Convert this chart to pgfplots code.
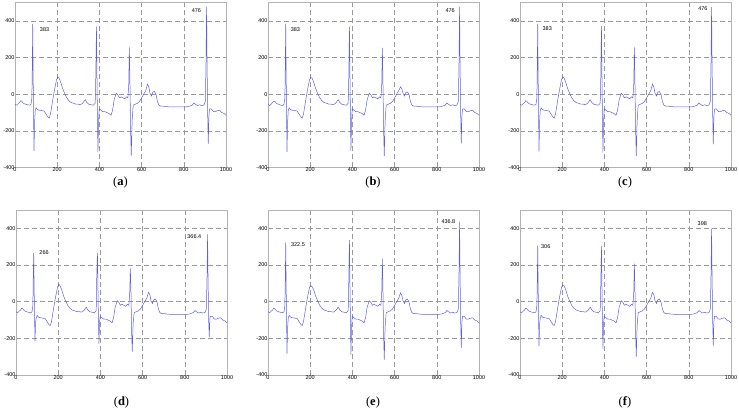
\documentclass[border=0pt]{standalone}
\usepackage{fontspec}
\setmainfont{Liberation Serif}
\newfontfamily\arial{Liberation Sans}
\usepackage{pgfplots}
\usepackage{pgfplotstable}
\pgfplotsset{compat=1.18}
\definecolor{ecg}{RGB}{95,95,222}
\pgfplotstableread{
x a b c d e f
0 -55 -55 -55 -55 -55 -55
8 -60 -62 -60 -60 -60 -60
15 -52 -55 -52 -52 -52 -52
22 -45 -45 -45 -45 -45 -45
28 -35 -38 -35 -35 -35 -35
33 -40 -40 -40 -40 -40 -40
40 -50 -50 -50 -50 -50 -50
50 -55 -55 -55 -55 -55 -55
60 -58 -60 -58 -58 -58 -58
70 -60 -62 -60 -62 -60 -60
76 -55 -55 -55 -55 -55 -55
80 -20 -20 -20 -20 -20 -20
82 150 150 150 150 130 120
84 383 383 383 266 322.5 306
86 100 100 100 70 80 80
88 -100 -100 -100 -80 -90 -80
90 -310 -315 -312 -217 -283 -243
93 -150 -150 -150 -110 -140 -120
96 -90 -90 -90 -90 -90 -90
100 -75 -75 -75 -75 -75 -75
108 -85 -85 -85 -85 -85 -85
118 -88 -88 -88 -88 -88 -88
128 -90 -90 -90 -90 -90 -90
138 -92 -92 -92 -92 -92 -92
148 -110 -110 -110 -110 -110 -110
156 -125 -125 -125 -125 -125 -125
162 -130 -130 -130 -130 -130 -130
168 -110 -110 -110 -110 -110 -110
175 -60 -60 -60 -60 -60 -60
182 -10 -10 -10 -10 -10 -10
190 40 40 40 40 40 40
197 80 80 80 80 80 80
203 95 92 95 95 88 92
210 85 85 85 85 80 85
218 60 60 60 60 60 60
226 30 30 30 30 30 30
235 5 5 5 5 5 5
245 -20 -20 -20 -20 -20 -20
255 -35 -35 -35 -35 -35 -35
265 -45 -45 -45 -45 -45 -45
278 -50 -50 -50 -50 -50 -50
290 -55 -55 -55 -55 -55 -55
300 -55 -55 -55 -55 -55 -55
310 -57 -57 -57 -57 -57 -57
320 -50 -50 -50 -50 -50 -50
328 -38 -38 -38 -38 -38 -38
333 -30 -30 -30 -30 -30 -30
340 -45 -45 -45 -45 -45 -45
350 -55 -55 -55 -55 -55 -55
362 -58 -58 -58 -58 -58 -58
372 -60 -60 -60 -60 -60 -60
380 -50 -50 -50 -50 -50 -50
383 100 100 100 150 120 100
386 370 368 372 268 336 304
388 150 150 150 110 135 120
390 -50 -50 -50 -50 -50 -50
393 -315 -310 -318 -231 -290 -256
396 -150 -150 -150 -110 -140 -120
399 -80 -80 -80 -80 -80 -80
405 -85 -85 -85 -85 -85 -85
415 -95 -95 -95 -95 -95 -95
425 -95 -95 -95 -95 -95 -95
435 -100 -100 -100 -100 -100 -100
445 -105 -105 -105 -105 -105 -105
455 -115 -115 -115 -115 -115 -115
462 -90 -90 -90 -90 -90 -90
470 -30 -30 -30 -30 -30 -30
480 5 5 5 5 5 5
488 -5 -5 -5 -5 -5 -5
495 -20 -20 -20 -20 -20 -20
503 -15 -15 -15 -15 -15 -15
512 -20 -20 -20 -20 -20 -20
520 -25 -25 -25 -25 -25 -25
528 -15 -15 -15 -15 -15 -15
535 -20 -20 -20 -20 -20 -20
539 50 50 50 50 50 50
542 255 253 255 182 235 208
545 50 50 50 50 50 50
548 -200 -200 -200 -165 -190 -180
551 -335 -338 -336 -273 -316 -300
555 -150 -150 -150 -120 -140 -135
560 -60 -60 -60 -60 -60 -60
570 -55 -55 -55 -55 -55 -55
580 -50 -50 -50 -50 -50 -50
590 -40 -40 -40 -40 -40 -40
600 -20 -20 -20 -20 -20 -20
610 0 0 0 0 0 0
620 20 20 20 20 20 20
628 55 40 55 50 48 50
634 40 30 40 40 35 40
640 5 5 5 5 5 5
647 -10 -10 -10 -10 -10 -10
653 10 8 10 10 10 10
660 15 12 15 15 15 15
668 0 0 0 0 0 0
675 -40 -40 -40 -40 -40 -40
682 -60 -60 -60 -60 -60 -60
690 -65 -65 -65 -65 -65 -65
700 -65 -65 -65 -65 -65 -65
720 -68 -68 -68 -68 -68 -68
740 -70 -70 -70 -70 -70 -70
760 -70 -70 -70 -70 -70 -70
780 -70 -70 -70 -70 -70 -70
800 -70 -70 -70 -70 -70 -70
820 -68 -68 -68 -68 -68 -68
840 -60 -60 -60 -60 -60 -60
848 -48 -48 -48 -48 -48 -48
855 -55 -55 -55 -55 -55 -55
865 -62 -62 -62 -62 -62 -62
875 -58 -58 -58 -58 -58 -58
885 -62 -62 -62 -62 -62 -62
895 -60 -60 -60 -60 -60 -60
902 -40 -40 -40 -40 -40 -40
905 150 150 150 115 140 125
908 476 476 476 366.4 436.8 398
910 200 200 200 150 180 165
913 -100 -100 -100 -100 -100 -100
916 -270 -268 -272 -193 -252 -240
919 -120 -120 -120 -90 -110 -110
922 -80 -80 -80 -80 -80 -80
930 -80 -80 -80 -80 -80 -80
940 -95 -95 -95 -95 -95 -95
950 -95 -95 -95 -95 -95 -95
960 -90 -90 -90 -90 -90 -90
970 -88 -88 -88 -88 -88 -88
980 -100 -100 -100 -100 -100 -100
990 -105 -105 -105 -105 -105 -105
1000 -115 -115 -115 -115 -115 -115
}\ecgdata
\pgfplotsset{ecgax/.style={
  width=211pt, height=165pt, scale only axis,
  anchor=north west,
  xmin=0, xmax=1000, ymin=-400, ymax=500,
  xtick={0,200,...,1000}, ytick={-400,-200,...,400},
  scaled ticks=false,
  grid=major,
  major grid style={dash pattern=on 5pt off 3pt, gray!80, line width=0.4pt},
  axis line style={gray!60, line width=0.5pt},
  tick style={draw=none},
  tick label style={font=\arial\fontsize{5.5}{6}\selectfont, /pgf/number format/assume math mode=true, /pgf/number format/1000 sep={}},
  xticklabel style={yshift=3pt},
  yticklabel style={xshift=3pt},
}, ecgline/.style={ecg, line width=0.5pt, no marks}}
\newcommand{\ann}[3]{\node[font=\arial\fontsize{5.5}{6}\selectfont, black] at (axis cs:#1,#2) {#3};}
\begin{document}
\begin{tikzpicture}
\path[use as bounding box] (0pt,0pt) rectangle (739pt,-413pt);
\begin{axis}[ecgax, at={(15pt,-2.5pt)}]
\addplot[ecgline] table[x=x,y=a] {\ecgdata};
\ann{140}{350}{383}\ann{860}{458}{476}
\end{axis}
\begin{axis}[ecgax, at={(268pt,-2.5pt)}]
\addplot[ecgline] table[x=x,y=b] {\ecgdata};
\ann{130}{350}{383}\ann{863}{458}{476}
\end{axis}
\begin{axis}[ecgax, at={(520pt,-2.5pt)}]
\addplot[ecgline] table[x=x,y=c] {\ecgdata};
\ann{129}{360}{383}\ann{867}{469}{476}
\end{axis}
\begin{axis}[ecgax, at={(16pt,-210pt)}]
\addplot[ecgline] table[x=x,y=d] {\ecgdata};
\ann{133}{268}{266}\ann{845}{355}{366.4}
\end{axis}
\begin{axis}[ecgax, at={(268pt,-210pt)}]
\addplot[ecgline] table[x=x,y=e] {\ecgdata};
\ann{142}{311}{322.5}\ann{855}{436}{436.8}
\end{axis}
\begin{axis}[ecgax, at={(520pt,-210pt)}]
\addplot[ecgline] table[x=x,y=f] {\ecgdata};
\ann{122}{300}{306}\ann{864}{427}{398}
\end{axis}
\node[font=\fontsize{12.5}{14}\selectfont] at (120.5pt,-182pt) {(\textbf{a})};
\node[font=\fontsize{12.5}{14}\selectfont] at (373pt,-182pt) {(\textbf{b})};
\node[font=\fontsize{12.5}{14}\selectfont] at (625pt,-182pt) {(\textbf{c})};
\node[font=\fontsize{12.5}{14}\selectfont] at (121.5pt,-402pt) {(\textbf{d})};
\node[font=\fontsize{12.5}{14}\selectfont] at (373pt,-402pt) {(\textbf{e})};
\node[font=\fontsize{12.5}{14}\selectfont] at (625pt,-402pt) {(\textbf{f})};
\end{tikzpicture}
\end{document}
